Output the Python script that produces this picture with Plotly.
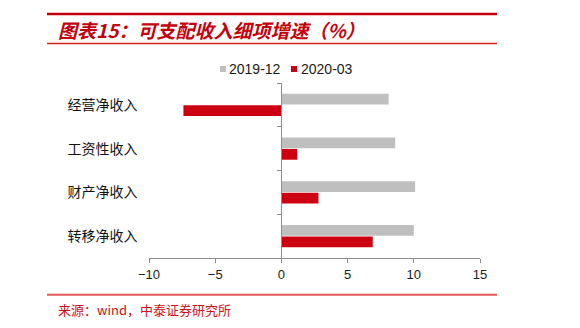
import plotly.graph_objects as go

# Income sub-item growth (%), y/y
categories = ["经营净收入", "工资性收入", "财产净收入", "转移净收入"]
series_names = ["2019-12", "2020-03"]
values_2019_12 = [8.1, 8.6, 10.1, 10.0]
values_2020_03 = [-7.4, 1.2, 2.8, 6.9]
x_ticks = [-10, -5, 0, 5, 10, 15]

GRAY = "#bfbfbf"
RED = "#cc0010"
TITLE_RED = "#c4000c"

W, H = 580, 328
ML, MR, MT, MB = 149, 100, 83, 70
PW, PH = W - ML - MR, H - MT - MB


def px_x(px):
    return (px - ML) / PW


def px_y(py):
    return (H - MB - py) / PH


fig = go.Figure()
for name, vals, col in [(series_names[0], values_2019_12, GRAY),
                        (series_names[1], values_2020_03, RED)]:
    fig.add_trace(go.Bar(
        x=vals, y=categories, orientation="h", name=name,
        marker=dict(color=col, line=dict(width=0)),
        showlegend=False,
    ))

fig.update_layout(
    width=W, height=H,
    margin=dict(l=ML, r=MR, t=MT, b=MB),
    paper_bgcolor="white", plot_bgcolor="white",
    barmode="group", bargap=0.48, bargroupgap=0.05,
    font=dict(family="Arial, Liberation Sans, sans-serif", size=13, color="#1a1a1a"),
    xaxis=dict(
        range=[x_ticks[0], x_ticks[-1]], tickvals=x_ticks,
        showgrid=False, zeroline=False,
        showline=True, linecolor="#8c8c8c", linewidth=1.3,
        ticks="outside", ticklen=4, tickcolor="#8c8c8c", tickwidth=1.3,
        tickfont=dict(size=13, color="#1a1a1a"),
    ),
    yaxis=dict(
        type="category", categoryorder="array", categoryarray=categories,
        range=[len(categories) - 0.5, -0.5],
        anchor="free", position=(0 - x_ticks[0]) / (x_ticks[-1] - x_ticks[0]),
        showgrid=False, zeroline=False,
        showline=True, linecolor="#8c8c8c", linewidth=1.3,
        ticks="outside", ticklen=4, tickcolor="#8c8c8c", tickwidth=1.3,
        tickson="boundaries",
        ticklabelstandoff=141,
        tickfont=dict(family="Noto Sans CJK SC", size=14, color="#111111"),
    ),
)

# legend: small colour keys followed by series names
legend_items = [(series_names[0], GRAY, 220, 228), (series_names[1], RED, 291, 300)]
for name, col, sx, tx in legend_items:
    fig.add_shape(type="rect", xref="paper", yref="paper",
                  x0=px_x(sx), x1=px_x(sx + 6), y0=px_y(66), y1=px_y(72),
                  fillcolor=col, line=dict(width=0))
    fig.add_annotation(
        text=name, xref="paper", yref="paper", x=px_x(tx - 1), y=px_y(69),
        xanchor="left", yanchor="middle", showarrow=False,
        font=dict(size=14, color="#1a1a1a"),
    )

# header rules and title
fig.add_shape(type="line", xref="paper", yref="paper",
              x0=px_x(47), x1=px_x(497), y0=px_y(14), y1=px_y(14),
              line=dict(color=TITLE_RED, width=2.5))
fig.add_shape(type="line", xref="paper", yref="paper",
              x0=px_x(47), x1=px_x(497), y0=px_y(43.5), y1=px_y(43.5),
              line=dict(color="#d42020", width=1.3))
fig.add_annotation(
    text="<b><i>图表15：可支配收入细项增速（%）</i></b>",
    xref="paper", yref="paper", x=px_x(56), y=px_y(30),
    xanchor="left", yanchor="middle", showarrow=False,
    font=dict(family="Noto Sans CJK SC", size=19, color=TITLE_RED),
)

# footer rule and source
fig.add_shape(type="line", xref="paper", yref="paper",
              x0=px_x(47), x1=px_x(497), y0=px_y(294.7), y1=px_y(294.7),
              line=dict(color="#e05858", width=2))
fig.add_annotation(
    text="来源：wind，中泰证券研究所",
    xref="paper", yref="paper", x=px_x(56), y=px_y(309),
    xanchor="left", yanchor="middle", showarrow=False,
    font=dict(family="Noto Sans CJK SC", size=13, color="#d0101a"),
)

fig.write_html("out.html")
